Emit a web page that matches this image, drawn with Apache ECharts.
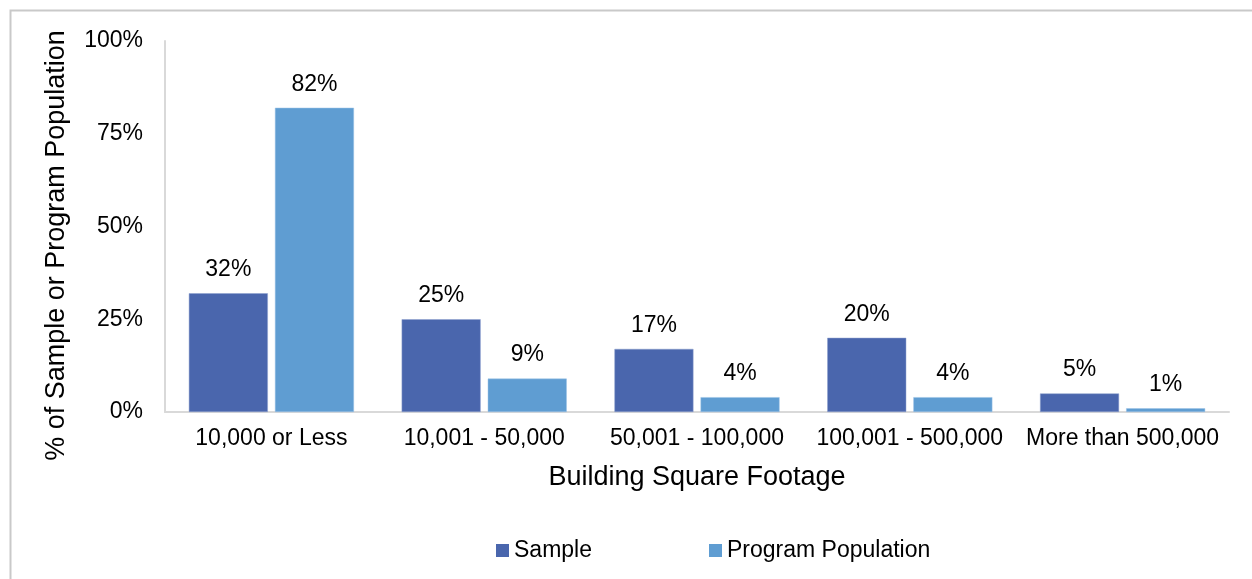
<!DOCTYPE html>
<html>
<head>
<meta charset="utf-8">
<script src="https://cdn.jsdelivr.net/npm/echarts@6/dist/echarts.min.js"></script>
<style>
  html, body { margin: 0; padding: 0; background: #ffffff; }
  #chart { width: 1252px; height: 579px; }
</style>
</head>
<body>
<div id="chart"></div>
<script>
// Share of buildings by floor area: surveyed sample vs. whole program
const categories = ['10,000 or Less', '10,001 - 50,000', '50,001 - 100,000', '100,001 - 500,000', 'More than 500,000'];
const sampleValues = [32, 25, 17, 20, 5];
const populationValues = [82, 9, 4, 4, 1];
const seriesNames = ['Sample', 'Program Population'];
const yTicks = [0, 25, 50, 75, 100];

const FONT = '"Liberation Sans", Arial, sans-serif';
const chart = echarts.init(document.getElementById('chart'), null, { renderer: 'canvas' });

const labelStyle = {
  show: true,
  position: 'top',
  distance: 12,
  formatter: p => p.value + '%',
  color: '#000000',
  fontFamily: FONT,
  fontSize: 23
};

chart.setOption({
  backgroundColor: '#ffffff',
  animation: false,
  graphic: [{
    type: 'rect',
    shape: { x: 10.5, y: 10.5, width: 1400, height: 800 },
    style: { fill: 'none', stroke: '#c9c9c9', lineWidth: 2 },
    silent: true
  }],
  grid: { left: 165, right: 23, top: 41, bottom: 167 },
  legend: {
    data: seriesNames,
    left: 491,
    top: 534,
    itemWidth: 13,
    itemHeight: 13,
    itemGap: 117,
    icon: 'rect',
    itemStyle: { borderWidth: 0 },
    textStyle: { color: '#000000', fontFamily: FONT, fontSize: 23 }
  },
  xAxis: {
    type: 'category',
    data: categories,
    name: 'Building Square Footage',
    nameLocation: 'middle',
    nameGap: 52,
    nameTextStyle: { color: '#000000', fontFamily: FONT, fontSize: 27 },
    axisLine: { lineStyle: { color: '#d9d9d9', width: 2 } },
    axisTick: { show: false },
    axisLabel: { color: '#000000', fontFamily: FONT, fontSize: 23, margin: 15, interval: 0 }
  },
  yAxis: {
    type: 'value',
    min: yTicks[0],
    max: yTicks[yTicks.length - 1],
    interval: yTicks[1] - yTicks[0],
    name: '% of Sample or Program Population',
    nameLocation: 'middle',
    nameGap: 95,
    nameRotate: 90,
    nameTextStyle: { color: '#000000', fontFamily: FONT, fontSize: 27, padding: [0, 38, 0, 0] },
    axisLine: { show: true, lineStyle: { color: '#d9d9d9', width: 2 } },
    axisTick: { show: false },
    splitLine: { show: false },
    axisLabel: { color: '#000000', fontFamily: FONT, fontSize: 23, margin: 22, formatter: v => v + '%' }
  },
  series: [
    {
      name: seriesNames[0],
      type: 'bar',
      data: sampleValues,
      barWidth: 79,
      barGap: '9%',
      itemStyle: { color: '#4a66ad', borderColor: '#8ea1cf', borderWidth: 0.5 },
      label: labelStyle
    },
    {
      name: seriesNames[1],
      type: 'bar',
      data: populationValues,
      barWidth: 79,
      barGap: '9%',
      itemStyle: { color: '#5f9dd2', borderColor: '#9cc3e6', borderWidth: 0.5 },
      label: labelStyle
    }
  ]
});
</script>
</body>
</html>
